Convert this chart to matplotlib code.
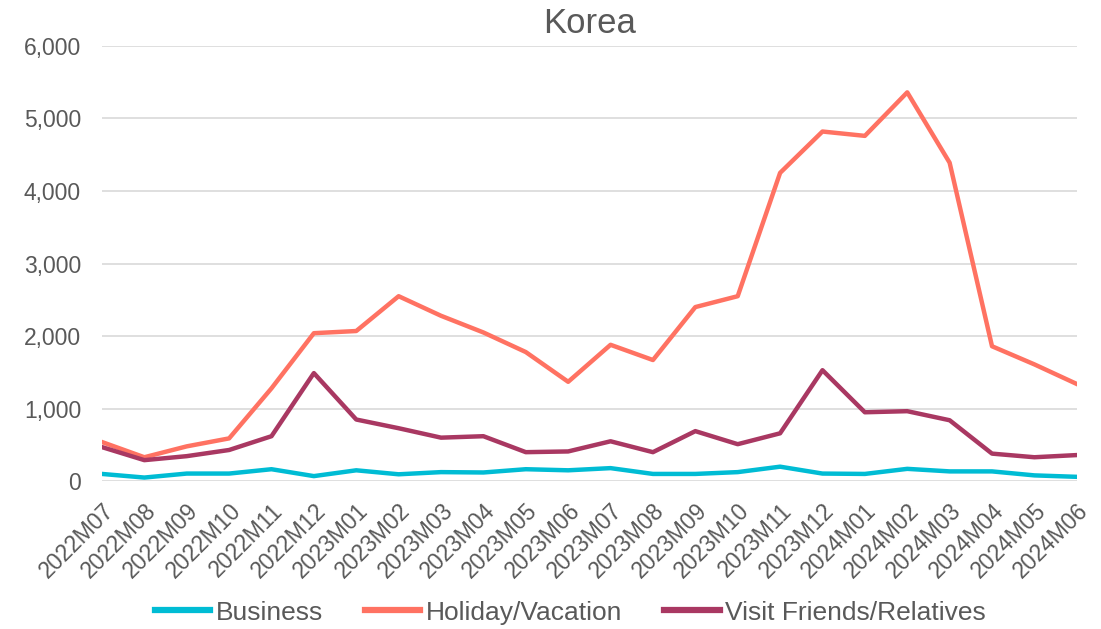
import matplotlib
matplotlib.use("Agg")
from matplotlib import pyplot as plt
from matplotlib.ticker import FuncFormatter

plt.rcParams['font.family'] = ['Liberation Sans', 'DejaVu Sans']

months = ['2022M07', '2022M08', '2022M09', '2022M10', '2022M11', '2022M12',
          '2023M01', '2023M02', '2023M03', '2023M04', '2023M05', '2023M06',
          '2023M07', '2023M08', '2023M09', '2023M10', '2023M11', '2023M12',
          '2024M01', '2024M02', '2024M03', '2024M04', '2024M05', '2024M06']

business = [100, 50, 105, 105, 165, 70, 150, 95, 125, 120, 165, 150,
            180, 100, 100, 125, 200, 105, 100, 170, 135, 135, 80, 60]
holiday = [540, 330, 480, 590, 1280, 2040, 2070, 2550, 2280, 2050, 1780, 1370,
           1880, 1670, 2400, 2550, 4250, 4820, 4760, 5360, 4390, 1860, 1610, 1340]
visit = [470, 290, 345, 430, 620, 1490, 850, 730, 600, 620, 400, 410,
         550, 400, 690, 510, 660, 1530, 950, 965, 840, 380, 330, 360]

text_color = '#595959'

fig = plt.figure(figsize=(11.01, 6.29), dpi=100)
ax = fig.add_axes([0.0926, 0.235, 0.8854, 0.692])

x = range(len(months))
ax.plot(x, business, color='#00BCD4', lw=3.2, label='Business', solid_joinstyle='round')
ax.plot(x, holiday, color='#FF7262', lw=3.2, label='Holiday/Vacation', solid_joinstyle='round')
ax.plot(x, visit, color='#A93862', lw=3.2, label='Visit Friends/Relatives', solid_joinstyle='round')

ax.set_xlim(0, len(months) - 1)
ax.set_ylim(0, 6000)
ax.set_yticks(range(0, 6001, 1000))
ax.yaxis.set_major_formatter(FuncFormatter(lambda v, p: f'{int(v):,}'))
ax.grid(axis='y', color='#D9D9D9', lw=1.2)
ax.set_axisbelow(True)
for s in ax.spines.values():
    s.set_visible(False)
ax.tick_params(axis='both', length=0, colors=text_color, labelsize=16.5)
ax.tick_params(axis='y', pad=15)
ax.tick_params(axis='x', pad=13)
ax.set_xticks(list(x))
ax.set_xticklabels(months, rotation=45, ha='right', rotation_mode='anchor')

ax.set_title('Korea', fontsize=25, color=text_color, pad=9)

leg = fig.legend(loc='center', ncol=3, frameon=False, fontsize=19,
                 bbox_to_anchor=(0.518, 0.026), handlelength=2.1, columnspacing=1.6,
                 handletextpad=0.2)
for t in leg.get_texts():
    t.set_color(text_color)
for h in leg.get_lines():
    h.set_linewidth(4.5)

fig.savefig('out.png', dpi=100)
